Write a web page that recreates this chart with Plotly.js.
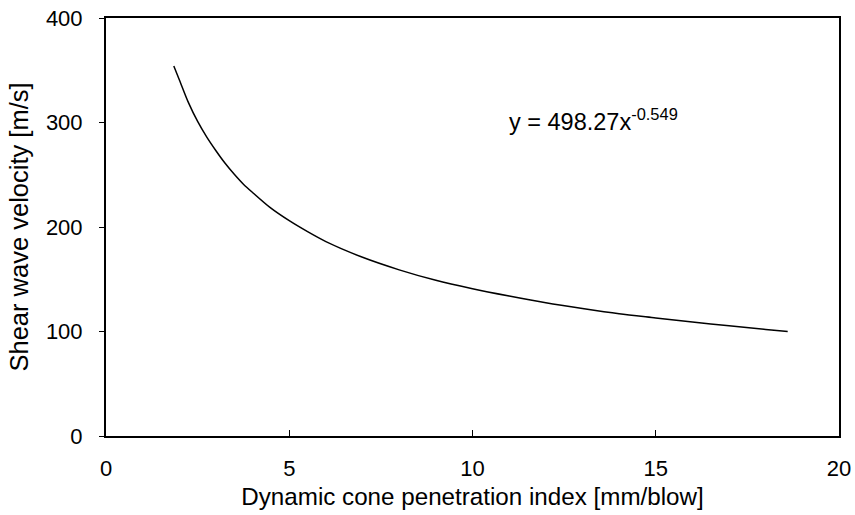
<!DOCTYPE html>
<html>
<head>
<meta charset="utf-8">
<script src="https://cdn.plot.ly/plotly-3.0.1.min.js"></script>
<style>html,body{margin:0;padding:0;background:#fff;}#chart{width:855px;height:515px;}</style>
</head>
<body>
<div id="chart"></div>
<script>
// Values
var dcpIndex = [1.85, 2.0, 2.25, 2.5, 2.75, 3.0, 3.25, 3.5, 3.75, 4.0, 4.5, 5.0, 5.5, 6.0, 7.0, 8.0, 9.0, 10.0, 11.0, 12.0, 13.0, 14.0, 15.0, 16.0, 17.0, 18.0, 18.6];
var shearVelocity = [354, 341, 319, 301, 286, 273, 261, 250.5, 241, 233, 218, 206, 195.5, 186, 171, 159, 149, 141, 134, 127.5, 122, 117, 113, 109, 105.5, 102, 100];
var xTicks = [0, 5, 10, 15, 20];
var yTicks = [0, 100, 200, 300, 400];
var equationText = 'y = 498.27x<sup>-0.549</sup>';

var fam = 'Liberation Sans, Arial, sans-serif';
function f(size) { return {family: fam, color: '#000', size: size}; }

Plotly.newPlot('chart', [{
  x: dcpIndex,
  y: shearVelocity,
  type: 'scatter',
  mode: 'lines',
  line: {color: '#000', width: 1.5, shape: 'spline', smoothing: 0.8},
  hoverinfo: 'skip'
}], {
  width: 855, height: 515,
  margin: {l: 106, r: 16, t: 18, b: 78.5},
  paper_bgcolor: '#fff', plot_bgcolor: '#fff',
  showlegend: false,
  font: f(22),
  xaxis: {
    range: [0, 20], tickvals: xTicks, ticktext: xTicks.map(String),
    showgrid: false, zeroline: false, automargin: false,
    showline: true, linecolor: '#000', linewidth: 2, mirror: true,
    ticks: 'inside', ticklen: 6, tickwidth: 1, tickcolor: '#000',
    ticklabelstandoff: 12,
    tickfont: f(22),
    title: {text: 'Dynamic cone penetration index [mm/blow]', font: f(24.2), standoff: 8}
  },
  yaxis: {
    range: [0, 400], tickvals: yTicks, ticktext: yTicks.map(String),
    showgrid: false, zeroline: false, automargin: false,
    showline: true, linecolor: '#000', linewidth: 2, mirror: true,
    ticks: 'outside', ticklen: 5, tickwidth: 1, tickcolor: '#000',
    ticklabelstandoff: 12,
    tickfont: f(22),
    title: {text: 'Shear wave velocity [m/s]', font: f(25.5), standoff: 10}
  },
  annotations: [{
    x: 10.95, y: 302, xref: 'x', yref: 'y', xanchor: 'left', yanchor: 'middle',
    text: equationText, showarrow: false,
    font: f(23.5)
  }]
}, {displayModeBar: false, staticPlot: true});
</script>
</body>
</html>
